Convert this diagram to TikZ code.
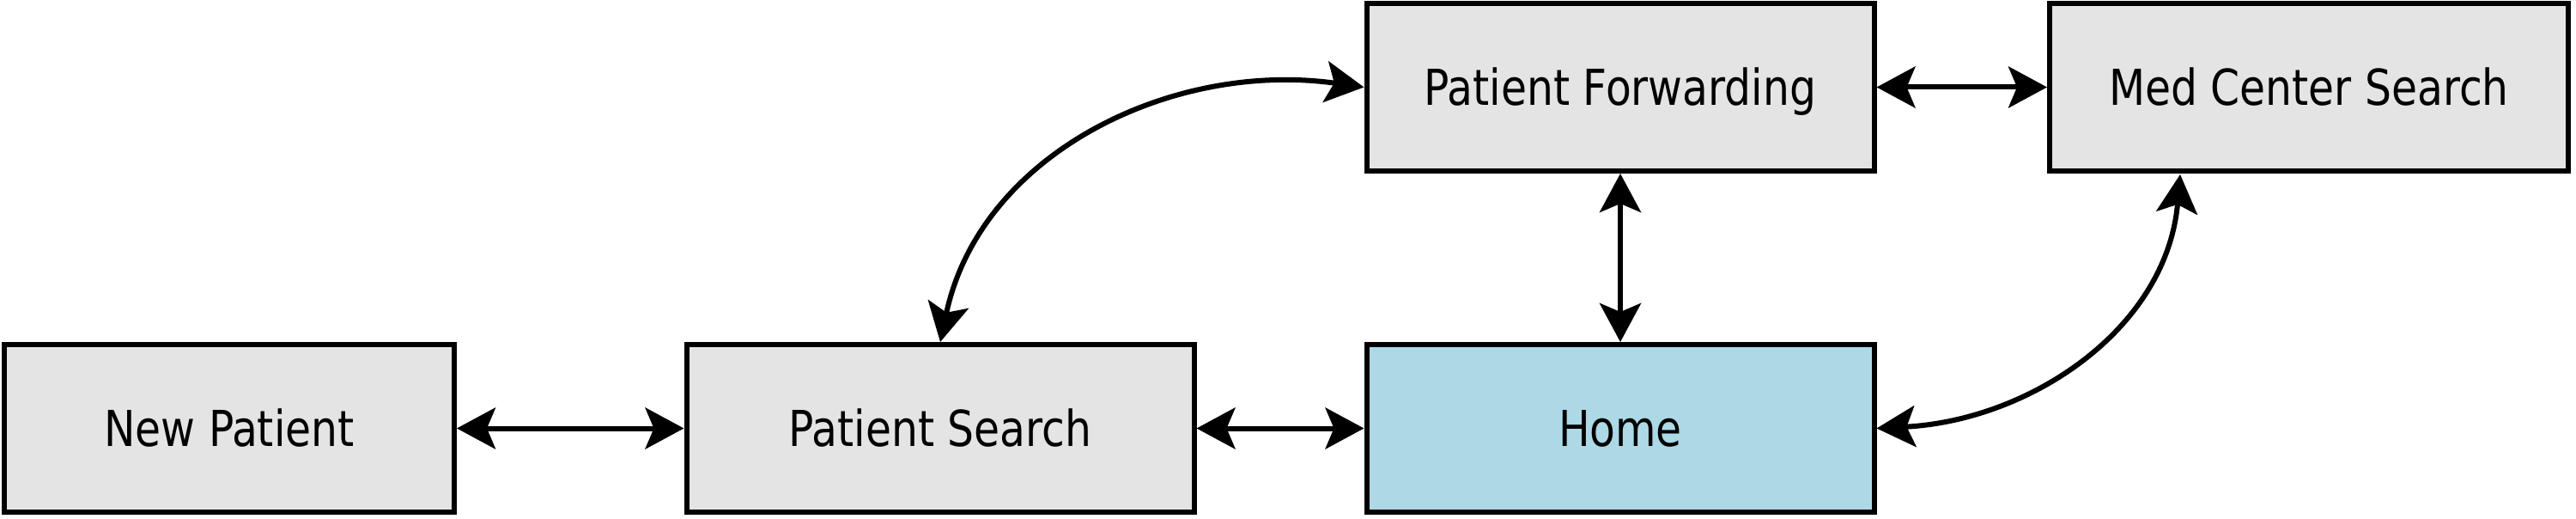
\documentclass[tikz,border=0pt]{standalone}
\usepackage{fontspec}
\setmainfont[FakeStretch=0.94]{DejaVu Sans Condensed}
\usetikzlibrary{arrows.meta}
\definecolor{boxgray}{HTML}{E4E4E4}
\definecolor{homeblue}{HTML}{ADD8E6}
\tikzset{screen/.style={draw=black, fill=boxgray, line width=0.06cm, minimum width=5.91cm, minimum height=1.95cm, font=\fontsize{16.4}{19}\selectfont, inner sep=0pt, text height=0.42cm, text depth=0cm},
         link/.style={line width=0.06cm, {Stealth[length=0.45cm,width=0.48cm,inset=0.1cm]}-{Stealth[length=0.45cm,width=0.48cm,inset=0.1cm]}}}

\begin{document}
\begin{tikzpicture}
  \useasboundingbox (0,0) rectangle (30,6.03);
  \node[screen,minimum width=5.24cm]         (np)   at ( 2.67, 1.045) {New Patient};
  \node[screen]                              (ps)   at (10.95, 1.045) {Patient Search};
  \node[screen,fill=homeblue]                (home) at (18.87, 1.045) {Home};
  \node[screen]                              (pf)   at (18.87, 5.015) {Patient Forwarding};
  \node[screen,minimum width=6.04cm]         (mcs)  at (26.89, 5.015) {Med Center Search};
  \coordinate (mcsfoot) at (25.39, 4.00);
  \draw[link] (np) -- (ps);
  \draw[link] (ps) -- (home);
  \draw[link] (home) -- (pf);
  \draw[link] (pf) -- (mcs);
  \draw[link] (ps.north) to[out=78, in=172] (pf.west);
  \draw[link] (home.east) to[out=3, in=265] (mcsfoot);
\end{tikzpicture}
\end{document}
